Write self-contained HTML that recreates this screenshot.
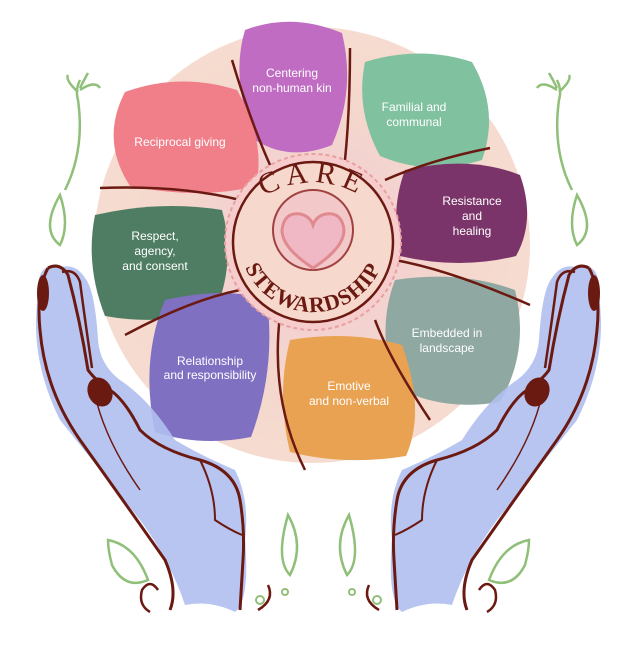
<!DOCTYPE html>
<html><head><meta charset="utf-8"><style>
html,body{margin:0;padding:0;background:#fff;}
svg{display:block;}
text{font-family:"Liberation Sans",sans-serif;fill:#fff;font-size:12px;text-anchor:middle;}
</style></head><body>
<svg width="642" height="651" viewBox="0 0 642 651" xmlns="http://www.w3.org/2000/svg">
<defs>
<radialGradient id="bg" cx="50%" cy="50%" r="50%">
<stop offset="0" stop-color="#f0c8d8"/><stop offset="0.6" stop-color="#f4d6cc"/><stop offset="1" stop-color="#f6dcd0"/>
</radialGradient>
<g id="hand">
<path d="M38,285 Q40,262 58,268 Q75,262 85,278 Q95,290 98,340 Q100,365 120,380 Q150,400 175,440 Q200,455 235,470 Q250,500 245,540 Q250,600 235,612 Q210,600 185,605 Q170,560 140,520 Q100,470 60,420 Q35,370 36,320 Z" fill="#b0bff0" opacity="0.9"/>
<path d="M48,268 Q36,290 40,330 Q45,390 80,440 Q130,510 165,560 Q178,590 170,610" fill="none" stroke="#6b1a12" stroke-width="3"/>
<path d="M48,268 Q60,262 68,275 Q80,320 88,370 Q95,380 110,390 Q125,400 140,430 Q160,450 200,460 Q235,470 240,500 Q245,530 243,560 L240,610" fill="none" stroke="#6b1a12" stroke-width="3"/>
<path d="M62,272 Q75,268 80,282 Q85,320 92,368" fill="none" stroke="#6b1a12" stroke-width="2.5"/>
<path d="M95,395 Q105,440 140,490" fill="none" stroke="#6b1a12" stroke-width="1.5"/>
<path d="M200,460 Q215,490 215,520 Q230,530 242,535" fill="none" stroke="#6b1a12" stroke-width="2"/>
<ellipse cx="43" cy="293" rx="6" ry="18" fill="#6b1a12"/>
<ellipse cx="100" cy="392" rx="12" ry="15" transform="rotate(-25 100 392)" fill="#6b1a12"/>
<path d="M150,612 Q138,605 142,590 Q150,578 158,590" fill="none" stroke="#6b1a12" stroke-width="2.5"/>
<path d="M258,610 Q275,600 268,585" fill="none" stroke="#6b1a12" stroke-width="2.5"/>
<path d="M108,540 Q135,545 148,580 Q125,590 112,565 Q108,550 108,540 Z" fill="none" stroke="#8fbf78" stroke-width="2.5"/>
<path d="M288,515 Q305,545 290,575 Q275,560 288,515 Z" fill="none" stroke="#8fbf78" stroke-width="2.5"/>
<circle cx="260" cy="600" r="4" fill="none" stroke="#8fbf78" stroke-width="2"/>
<circle cx="285" cy="592" r="3" fill="none" stroke="#8fbf78" stroke-width="2"/>
<path d="M60,195 Q70,225 60,245 Q40,230 60,195 Z" fill="none" stroke="#8fbf78" stroke-width="2.5"/>
<path d="M65,190 Q85,150 78,100 Q75,90 80,80" fill="none" stroke="#8fbf78" stroke-width="2.5"/>
<path d="M78,92 Q65,80 68,75 M80,90 Q95,80 100,88 M80,88 Q85,78 88,73" fill="none" stroke="#8fbf78" stroke-width="2.5"/>
</g>
</defs>
<circle cx="312" cy="245" r="218" fill="url(#bg)"/>
<path d="M245,30 Q292,12 342,33 Q356,90 332,145 Q290,162 255,140 Q230,80 245,30Z" fill="#bf6cc2"/>
<path d="M365,62 Q420,45 472,62 Q500,110 482,160 Q430,177 380,156 Q355,110 365,62Z" fill="#80c1a0"/>
<path d="M125,92 Q180,72 237,90 Q266,140 256,186 Q200,200 130,186 Q100,140 125,92Z" fill="#f07f8a"/>
<path d="M405,170 Q470,155 520,175 Q536,220 516,256 Q460,270 400,256 Q390,210 405,170Z" fill="#7b3469"/>
<path d="M95,215 Q160,200 222,210 Q236,260 216,310 Q160,326 105,316 Q85,265 95,215Z" fill="#4f7d63"/>
<path d="M395,280 Q460,270 515,290 Q530,350 500,402 Q440,412 395,386 Q376,330 395,280Z" fill="#8fa8a1"/>
<path d="M165,300 Q228,286 267,300 Q276,370 251,437 Q200,447 155,432 Q140,360 165,300Z" fill="#8070c2"/>
<path d="M290,340 Q350,330 402,345 Q426,410 406,456 Q345,466 290,452 Q276,395 290,340Z" fill="#e9a152"/>
<g fill="none" stroke="#6b1a12" stroke-width="2.5">
<path d="M232,60 Q250,120 270,165"/><path d="M350,48 Q350,110 345,160"/>
<path d="M490,148 Q430,160 385,180"/><path d="M100,188 Q180,185 240,200"/>
<path d="M530,305 Q450,270 395,260"/><path d="M125,335 Q190,300 240,290"/>
<path d="M430,420 Q390,360 375,320"/><path d="M305,470 Q270,400 280,315"/>
</g>
<circle cx="313" cy="242" r="88" fill="#f6cccc" stroke="#e8a0a0" stroke-width="2" stroke-dasharray="4 3"/>
<circle cx="313" cy="242" r="80" fill="#f6d8cc" stroke="#6b1a12" stroke-width="2.5"/>
<circle cx="313" cy="230" r="40" fill="#f2c8c8" stroke="#a04040" stroke-width="2"/>
<path d="M313,268 Q282,248 282,230 Q284,212 300,214 Q310,216 313,225 Q316,216 326,214 Q342,212 344,230 Q344,248 313,268Z" fill="#f0b8c4" stroke="#e08a90" stroke-width="3"/>
<path id="arcTop" d="M250,205 Q313,160 376,205" fill="none"/>
<text style="font-size:30px;fill:#6b1a12;font-family:'Liberation Serif',serif;letter-spacing:6px"><textPath href="#arcTop" startOffset="50%">CARE</textPath></text>
<path id="arcBot" d="M239,238 A74,74 0 0 0 387,238" fill="none"/>
<text style="font-size:22px;font-weight:bold;fill:#6b1a12;font-family:'Liberation Serif',serif;letter-spacing:1px"><textPath href="#arcBot" startOffset="50%">STEWARDSHIP</textPath></text>
<text x="292" y="77">Centering</text><text x="292" y="92">non-human kin</text>
<text x="414" y="111">Familial and</text><text x="414" y="126">communal</text>
<text x="180" y="146">Reciprocal giving</text>
<text x="472" y="205">Resistance</text><text x="472" y="220">and</text><text x="472" y="235">healing</text>
<text x="155" y="240">Respect,</text><text x="155" y="255">agency,</text><text x="155" y="270">and consent</text>
<text x="447" y="337">Embedded in</text><text x="447" y="352">landscape</text>
<text x="210" y="365">Relationship</text><text x="210" y="379">and responsibility</text>
<text x="349" y="390">Emotive</text><text x="349" y="405">and non-verbal</text>
<use href="#hand"/>
<use href="#hand" transform="translate(637,0) scale(-1,1)"/>
</svg>
</body></html>
